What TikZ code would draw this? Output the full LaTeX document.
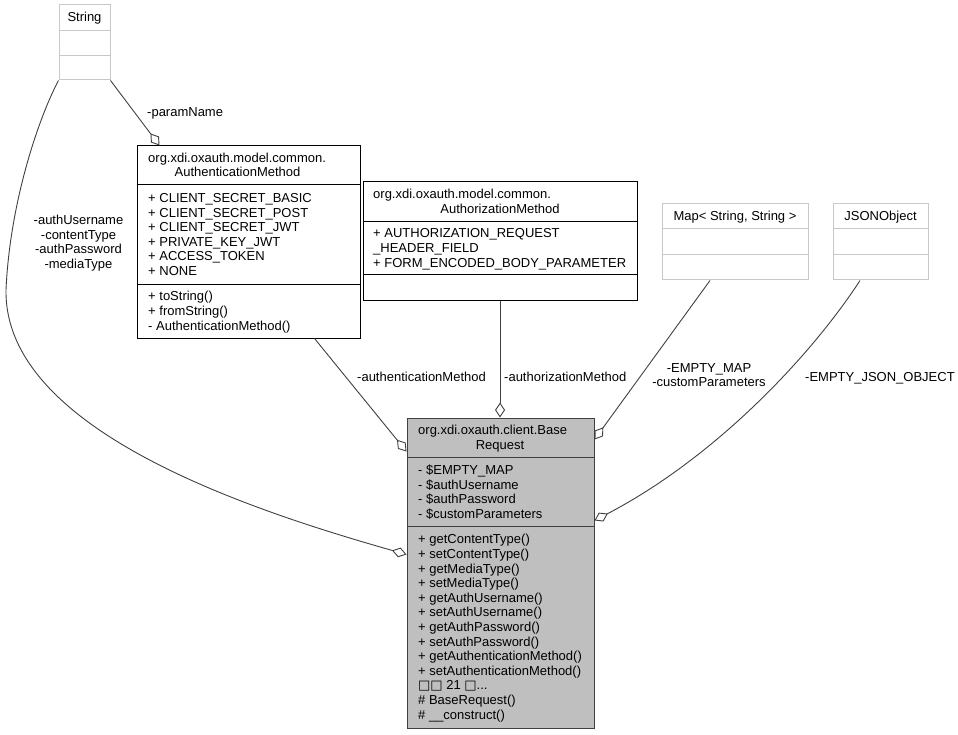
\documentclass[tikz,border=0pt]{standalone}
\usepackage{fontspec}
\setmainfont{Liberation Sans}
\newfontfamily\symbfont{DejaVu Sans}
\usetikzlibrary{arrows.meta}

\definecolor{edgegray}{HTML}{404040}
\definecolor{extgray}{HTML}{C8C8C8}
\definecolor{basefill}{HTML}{BFBFBF}

\tikzset{
    x=1pt, y=-1pt,
    classbox/.style={draw=black, line width=1pt, inner sep=0pt},
    extbox/.style={draw=extgray, line width=1pt, inner sep=0pt},
    member/.style={inner sep=0pt, font=\fontsize{13}{14.6}\selectfont},
    aggr/.style={draw=edgegray, line width=0.9pt, -{Diamond[open,length=15pt,width=10pt]}},
}

% one node per text row: prefix, x, first baseline, anchor, rows
\newcommand{\classrows}[5]{%
    \foreach \txt [count=\i from 0] in {#5}
        \node [member, anchor=#4] (#1\i) at (#2, #3+\i*14.6) {\txt};
}
\newcommand{\missglyph}{{\symbfont\char"25A1}}
\newcommand{\moremembers}{\missglyph\missglyph{} 21 \missglyph...}

\begin{document}
\begin{tikzpicture}
    \useasboundingbox (0,0) rectangle (958,735);

    % boxes
    \node [extbox, minimum width=51pt, minimum height=75pt](str) at (84.5,42.5) {};
    \node [classbox, minimum width=223pt, minimum height=192pt](authm) at (248.5,242) {};
    \node [classbox, minimum width=274pt, minimum height=118pt](autz) at (500,241) {};
    \node [extbox, minimum width=146pt, minimum height=76pt](map) at (735,242) {};
    \node [extbox, minimum width=95pt, minimum height=76pt](json) at (880.5,242) {};
    \node [classbox, draw=edgegray, fill=basefill, minimum width=187pt, minimum height=310pt](base) at (500.5,573) {};

    % compartments
    \draw [extgray, line width=1pt] ([yshift=-26pt]str.north west) -- ([yshift=-26pt]str.north east);
    \draw [extgray, line width=1pt] ([yshift=-51pt]str.north west) -- ([yshift=-51pt]str.north east);
    \draw [line width=1pt] ([yshift=-39pt]authm.north west) -- ([yshift=-39pt]authm.north east);
    \draw [line width=1pt] ([yshift=-139pt]authm.north west) -- ([yshift=-139pt]authm.north east);
    \draw [line width=1pt] ([yshift=-40pt]autz.north west) -- ([yshift=-40pt]autz.north east);
    \draw [line width=1pt] ([yshift=-93pt]autz.north west) -- ([yshift=-93pt]autz.north east);
    \draw [extgray, line width=1pt] ([yshift=-25pt]map.north west) -- ([yshift=-25pt]map.north east);
    \draw [extgray, line width=1pt] ([yshift=-51pt]map.north west) -- ([yshift=-51pt]map.north east);
    \draw [extgray, line width=1pt] ([yshift=-25pt]json.north west) -- ([yshift=-25pt]json.north east);
    \draw [extgray, line width=1pt] ([yshift=-51pt]json.north west) -- ([yshift=-51pt]json.north east);
    \draw [edgegray, line width=1pt] ([yshift=-40pt]base.north west) -- ([yshift=-40pt]base.north east);
    \draw [edgegray, line width=1pt] ([yshift=-109pt]base.north west) -- ([yshift=-109pt]base.north east);

    % texts
    \node [member, anchor=base](strname) at (84.5,22) {String};
    \node [member, anchor=base](mapname) at (735,220.5) {Map< String, String >};
    \node [member, anchor=base](jsonname) at (880.5,220.5) {JSONObject};

    \node [member, anchor=base west](authmpkg) at (148,162.2) {org.xdi.oxauth.model.common.};
    \node [member, anchor=base](authmname) at (237.5,176.8) {AuthenticationMethod};
    \classrows{authma}{148}{202.5}{base west}{+ CLIENT\_SECRET\_BASIC,+ CLIENT\_SECRET\_POST,+ CLIENT\_SECRET\_JWT,+ PRIVATE\_KEY\_JWT,+ ACCESS\_TOKEN,+ NONE}
    \classrows{authmo}{148}{300.9}{base west}{+ toString(),+ fromString(),- AuthenticationMethod()}

    \node [member, anchor=base west](autzpkg) at (373,198.7) {org.xdi.oxauth.model.common.};
    \node [member, anchor=base](autzname) at (500,213.3) {AuthorizationMethod};
    \classrows{autza}{373}{237.9}{base west}{+ AUTHORIZATION\_REQUEST,\_HEADER\_FIELD,+ FORM\_ENCODED\_BODY\_PARAMETER}

    \node [member, anchor=base west](basepkg) at (418,434.7) {org.xdi.oxauth.client.Base};
    \node [member, anchor=base](basename) at (500,449.3) {Request};
    \classrows{basea}{418}{474.6}{base west}{- \$EMPTY\_MAP,- \$authUsername,- \$authPassword,- \$customParameters}
    \classrows{baseo}{418}{543.8}{base west}{+ getContentType(),+ setContentType(),+ getMediaType(),+ setMediaType(),+ getAuthUsername(),+ setAuthUsername(),+ getAuthPassword(),+ setAuthPassword(),+ getAuthenticationMethod(),+ setAuthenticationMethod(),\moremembers,\# BaseRequest(),\# \_\_construct()}

    % aggregations
    \draw [aggr] (str.south west) .. controls (40,115) and (10,200) .. (6,290)
        .. controls (4,430) and (250,510) .. ([yshift=-137pt]base.north west);
    \draw [aggr] (str.south east) -- ([xshift=23pt]authm.north west);
    \draw [aggr] ([xshift=178pt]authm.south west) -- ([yshift=-34pt]base.north west);
    \draw [aggr] (autz.south) -- (autz.south |- base.north);
    \draw [aggr] ([xshift=-25pt]map.south) -- ([yshift=-22pt]base.north east);
    \draw [aggr] ([xshift=-20.5pt]json.south) .. controls (815,350) and (720,455) .. ([yshift=-103pt]base.north east);

    % edge labels
    \classrows{lblstr}{78.5}{224.5}{base}{-authUsername,-contentType,-authPassword,-mediaType}
    \node [member, anchor=base west](lblparam) at (147,117) {-paramName};
    \node [member, anchor=base west](lblauthm) at (357,381) {-authenticationMethod};
    \node [member, anchor=base west](lblautz) at (504,381) {-authorizationMethod};
    \classrows{lblmap}{709}{372}{base}{-EMPTY\_MAP,-customParameters}
    \node [member, anchor=base west](lbljson) at (805,381) {-EMPTY\_JSON\_OBJECT};
\end{tikzpicture}
\end{document}
